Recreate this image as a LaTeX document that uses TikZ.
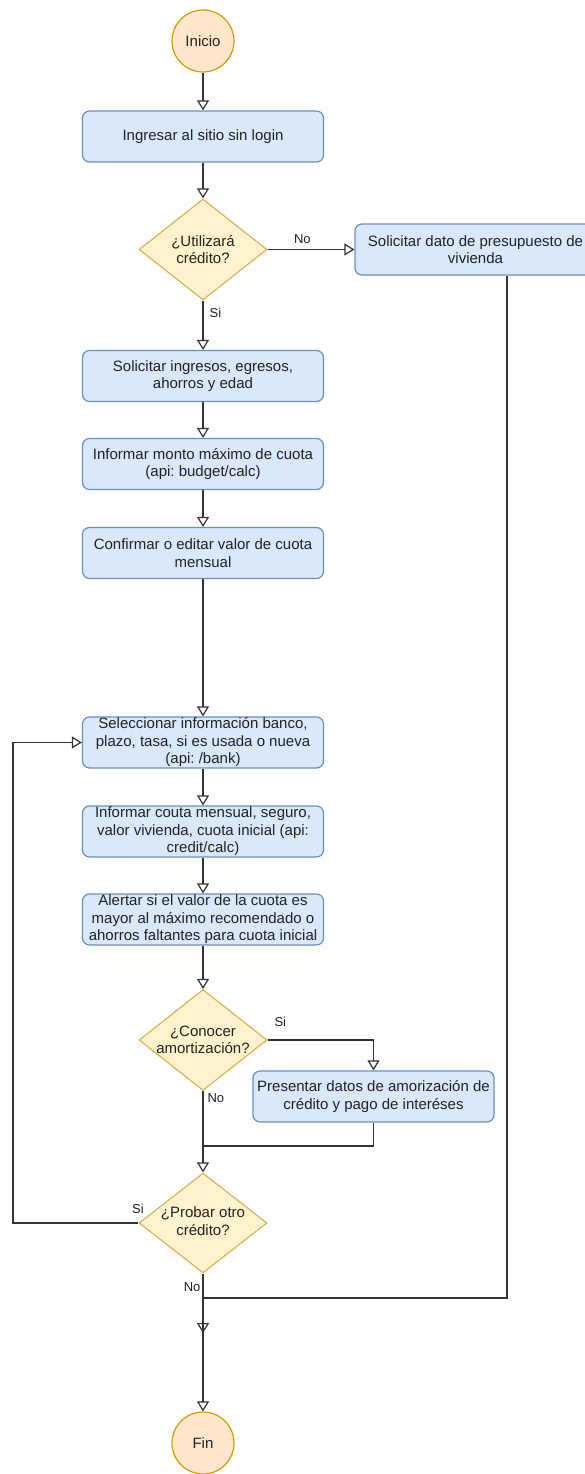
\documentclass[tikz,border=0pt]{standalone}
\usepackage{fontspec}
\setmainfont{Liberation Sans}
\usetikzlibrary{arrows.meta,shapes.geometric}
\frenchspacing

\definecolor{procfill}{HTML}{DAE8FC}
\definecolor{procdraw}{HTML}{6C8EBF}
\definecolor{decfill}{HTML}{FFF2CC}
\definecolor{decdraw}{HTML}{D6B656}
\definecolor{termfill}{HTML}{FFE6CC}
\definecolor{termdraw}{HTML}{D79B00}
\definecolor{linec}{HTML}{333333}
\definecolor{textc}{HTML}{222222}

\newcommand\boxfont{\fontsize{15}{17.5}\selectfont}
\newcommand\edgefont{\fontsize{13}{15}\selectfont}

\tikzset{
  proc/.style={draw=procdraw, fill=procfill, line width=1.2pt, rounded corners=7pt,
    minimum width=241pt, minimum height=51pt, inner sep=0pt, align=center,
    font=\boxfont, text=textc},
  dec/.style={diamond, draw=decdraw, fill=decfill, line width=1.2pt,
    minimum width=128pt, minimum height=101pt, inner sep=0pt},
  dectext/.style={align=center, font=\boxfont, text=textc, inner sep=0pt},
  term/.style={circle, draw=termdraw, fill=termfill, line width=1.2pt,
    minimum size=62pt, inner sep=0pt, font=\boxfont, text=textc},
  flow/.style={draw=linec, line width=1.2pt, -{Triangle[open,length=10pt,width=12pt]}},
  link/.style={draw=linec, line width=1.2pt},
  lbl/.style={font=\edgefont, text=textc, inner sep=0pt}
}

\begin{document}
\begin{tikzpicture}[x=1pt, y=-1pt]
  % page frame
  \fill[white] (0,0) rectangle (585,1474);
  \useasboundingbox (0,0) rectangle (585,1474);

  % terminals
  \node[term] (start) at (203,41) {Inicio};
  \node[term] (end) at (203,1443) {Fin};

  % process steps
  \node[proc] (b1) at (203,136.5) {Ingresar al sitio sin login};
  \node[proc] (s1) at (475.5,249.5) {Solicitar dato de presupuesto de\\vivienda};
  \node[proc] (b2) at (203,376) {Solicitar ingresos, egresos,\\ahorros y edad};
  \node[proc] (b3) at (203,464) {Informar monto máximo de cuota\\(api: budget/calc)};
  \node[proc] (b4) at (203,553) {Confirmar o editar valor de cuota\\mensual};
  \node[proc] (b5) at (203,742.5) {Seleccionar información banco,\\plazo, tasa, si es usada o nueva\\(api: /bank)};
  \node[proc] (b6) at (203,831.5) {Informar couta mensual, seguro,\\valor vivienda, cuota inicial (api:\\credit/calc)};
  \node[proc] (b7) at (203,919.5) {Alertar si el valor de la cuota es\\mayor al máximo recomendado o\\ahorros faltantes para cuota inicial};
  \node[proc] (b8) at (373.5,1096.5) {Presentar datos de amorización de\\crédito y pago de interéses};

  % decisions
  \node[dec, label={[dectext]center:{¿Utilizará\\crédito?}}] (d1) at (203,249.5) {};
  \node[dec, label={[dectext]center:{¿Conocer\\amortización?}}] (d2) at (203,1040) {};
  \node[dec, minimum height=100pt, label={[dectext, yshift=2pt]center:{¿Probar otro\\crédito?}}] (d3) at (203,1223) {};

  % helper points for merges and the loop
  \coordinate (j1) at (203,1146);
  \coordinate (lp) at (13,1222);
  \coordinate (k) at (507,1298);
  \coordinate (m) at (203,1333);

  % connectors
  \draw[flow] (start) -- (b1);
  \draw[flow] (b1) -- (d1);
  \draw[flow] (d1.east) -- node[lbl, pos=0.4, above=5pt] {No} (s1.west);
  \draw[flow] (d1.south) -- node[lbl, pos=0.25, right=6pt] {Si} (b2.north);
  \draw[flow] (b2) -- (b3);
  \draw[flow] (b3) -- (b4);
  \draw[flow] (b4) -- (b5);
  \draw[flow] (b5) -- (b6);
  \draw[flow] (b6) -- (b7);
  \draw[flow] (b7) -- (d2);
  \draw[flow] (d2.east) -| node[lbl, pos=0.06, above=13pt] {Si} (b8.north);
  \draw[flow] (d2.south) -- node[lbl, pos=0.085, right=4pt] {No} (d3.north);
  \draw[link] (b8.south) |- (j1);
  \draw[flow] (d3.west) -- node[lbl, pos=0, anchor=south east, xshift=6pt, yshift=9pt] {Si} (d3.west -| lp) |- (b5.west);
  \draw[flow] (d3.south) -- node[lbl, pos=0.1, left=2pt] {No} (end.north);
  \draw[flow] (s1.south -| k) -- (k) -| (m);
\end{tikzpicture}
\end{document}
